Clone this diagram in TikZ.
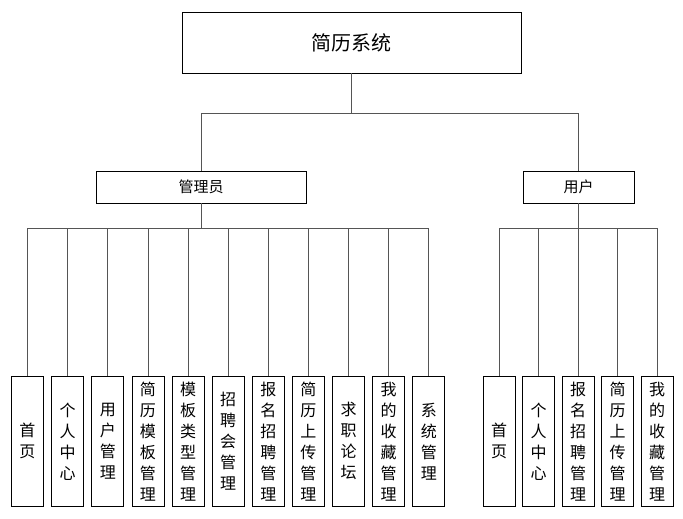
\documentclass[tikz,border=0pt]{standalone}
\usepackage{fontspec}
\setmainfont{Noto Sans CJK SC}
\usepackage{tikz}
\usetikzlibrary{positioning}
\definecolor{linkgray}{HTML}{555555}

\begin{document}
\begin{tikzpicture}[
    x=1pt, y=-1pt,
    sys_box/.style={
        rectangle,
        draw=black,
        fill=white,
        line width=0.8pt,
        minimum width=339pt,
        minimum height=61pt,
        font=\fontsize{20}{24}\selectfont
    },
    role_box/.style={
        rectangle,
        draw=black,
        fill=white,
        line width=0.8pt,
        minimum height=32pt,
        font=\fontsize{15}{18}\selectfont
    },
    leaf_box/.style={
        rectangle,
        draw=black,
        fill=white,
        line width=0.8pt,
        inner sep=0pt,
        minimum width=32pt,
        minimum height=130pt,
        align=center,
        anchor=north,
        font=\fontsize{16}{21}\selectfont
    },
    link/.style={line width=0.8pt, color=linkgray}
]
\useasboundingbox (0,0) rectangle (683,519);

\node[sys_box] (sys) at (351.5,42.5) {简历系统};

\node[role_box, minimum width=210pt] (admin) at (201,187) {管理员};
\node[role_box, minimum width=111pt] (user) at (578.5,187) {用户};

\coordinate (tbus) at (351.5,113);
\coordinate (abus) at (201,228);
\coordinate (ubus) at (578.5,228);

% admin leaves
\node[leaf_box] (a1) at (27.5,376) {首\\页};
\node[leaf_box] (a2) at (67.6,376) {个\\人\\中\\心};
\node[leaf_box] (a3) at (107.8,376) {用\\户\\管\\理};
\node[leaf_box] (a4) at (147.9,376) {简\\历\\模\\板\\管\\理};
\node[leaf_box] (a5) at (188.0,376) {模\\板\\类\\型\\管\\理};
\node[leaf_box] (a6) at (228.2,376) {招\\聘\\会\\管\\理};
\node[leaf_box] (a7) at (268.3,376) {报\\名\\招\\聘\\管\\理};
\node[leaf_box] (a8) at (308.4,376) {简\\历\\上\\传\\管\\理};
\node[leaf_box] (a9) at (348.6,376) {求\\职\\论\\坛};
\node[leaf_box] (a10) at (388.7,376) {我\\的\\收\\藏\\管\\理};
\node[leaf_box] (a11) at (428.8,376) {系\\统\\管\\理};

% user leaves
\node[leaf_box] (u1) at (499,376) {首\\页};
\node[leaf_box] (u2) at (538.5,376) {个\\人\\中\\心};
\node[leaf_box] (u3) at (578,376) {报\\名\\招\\聘\\管\\理};
\node[leaf_box] (u4) at (617.5,376) {简\\历\\上\\传\\管\\理};
\node[leaf_box] (u5) at (657,376) {我\\的\\收\\藏\\管\\理};

\draw[link] (sys.south) -- (tbus);
\draw[link] (tbus) -| (admin.north);
\draw[link] (tbus) -| (user.north);

\draw[link] (admin.south) -- (abus);
\draw[link] (abus) -| (a1.north);
\draw[link] (abus) -| (a2.north);
\draw[link] (abus) -| (a3.north);
\draw[link] (abus) -| (a4.north);
\draw[link] (abus) -| (a5.north);
\draw[link] (abus) -| (a6.north);
\draw[link] (abus) -| (a7.north);
\draw[link] (abus) -| (a8.north);
\draw[link] (abus) -| (a9.north);
\draw[link] (abus) -| (a10.north);
\draw[link] (abus) -| (a11.north);

\draw[link] (user.south) -- (ubus);
\draw[link] (ubus) -| (u1.north);
\draw[link] (ubus) -| (u2.north);
\draw[link] (ubus) -| (u3.north);
\draw[link] (ubus) -| (u4.north);
\draw[link] (ubus) -| (u5.north);

\end{tikzpicture}
\end{document}
